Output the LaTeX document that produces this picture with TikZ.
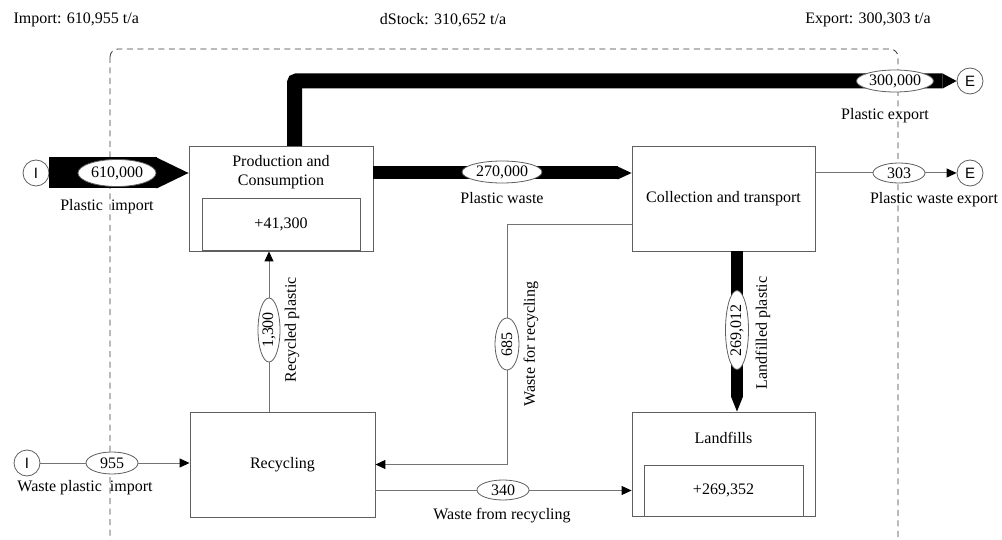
\documentclass[tikz,border=0pt]{standalone}
\usepackage{fontspec}
\setmainfont{Liberation Serif}
\newfontfamily\sansfont{Liberation Sans}
\usetikzlibrary{arrows.meta, shapes.geometric}
\definecolor{boxgray}{RGB}{95,95,95}
\definecolor{linegray}{RGB}{115,115,115}
\definecolor{dashgray}{RGB}{60,60,60}

\begin{document}
\begin{tikzpicture}[
        x=1pt, y=-1pt,
        every node/.append style={font=\fontsize{16}{19}\selectfont},
        procNode/.style={rectangle, draw=boxgray, line width=0.9pt, minimum width=184pt, minimum height=105pt, inner sep=0pt},
        stockNode/.style={rectangle, draw=boxgray, line width=0.9pt, minimum width=158pt, minimum height=52pt, inner sep=0pt},
        valueNode/.style={ellipse, draw=boxgray, line width=0.8pt, fill=white, inner sep=0pt, minimum height=22pt, minimum width=52pt},
        endNode/.style={circle, draw=boxgray, line width=0.8pt, fill=white, minimum size=26pt, inner sep=0pt, font=\sansfont\fontsize{15}{18}\selectfont},
        thinFlow/.style={draw=linegray, line width=1pt, -{Triangle[length=10pt, width=9pt, color=black]}},
        bigFlow/.style 2 args={draw=black, line width=#1, -{Triangle[length=#2, width=#1, line width=0pt]}},
        sysBound/.style={draw=dashgray, line width=0.8pt, dash pattern=on 6pt off 4.5pt, rounded corners=8pt}
    ]
        \useasboundingbox (0,0) rectangle (1002,540);

        % System boundary and balance
        \draw[sysBound] (110,49) rectangle (898,547);
        \node[anchor=west] (tImport) at (10,20) {Import: 610,955 t/a};
        \node (tStock) at (443,20) {dStock: 310,652 t/a};
        \node (tExport) at (868,20) {Export: 300,303 t/a};

        % Processes
        \node[procNode] (prod) at (281,198.5) {};
        \node[stockNode] (prodStock) at (281,224.5) {+41,300};
        \node[align=center] (prodTitle) at (281,172) {Production and\\Consumption};
        \node[procNode, minimum width=183pt] (coll) at (723.5,198.5) {Collection and transport};
        \node[procNode, minimum width=185pt] (recy) at (282.5,464.5) {Recycling};
        \node[procNode, minimum width=183pt, minimum height=104pt] (land) at (723.5,464) {};
        \node[stockNode, minimum width=159pt, minimum height=51pt] (landStock) at (723.5,490.5) {+269,352};
        \node (landTitle) at (723.5,438) {Landfills};

        % Imports and exports
        \node[endNode] (iPlastic) at (36,173) {I};
        \node[endNode] (iWaste) at (27,463) {I};
        \node[endNode] (ePlastic) at (970,81) {E};
        \node[endNode] (eWaste) at (970,173) {E};

        \coordinate (expStart) at (294.5,146);
        \coordinate (lfStart) at (737,251);
        \coordinate (wrBend) at (507,225);
        \coordinate (rpStart) at (269,412);

        % Flows
        \draw[bigFlow={31pt}{32pt}] (iPlastic) -- (iPlastic -| prod.west);
        \draw[bigFlow={15pt}{14pt}, rounded corners=2pt] (expStart) |- (ePlastic);
        \draw[bigFlow={13pt}{14pt}] (prod.east |- iPlastic) -- (iPlastic -| coll.west);
        \draw[thinFlow] (coll.east |- eWaste) -- (eWaste);
        \draw[bigFlow={12pt}{15pt}] (lfStart) -- (lfStart |- land.north);
        \draw[thinFlow] (wrBend -| coll.west) -- (wrBend) |- (recy.east);
        \draw[thinFlow] (recy.east |- landStock) -- (landStock -| land.west);
        \draw[thinFlow] (rpStart) -- (rpStart |- prod.south);
        \draw[thinFlow] (iWaste) -- (iWaste -| recy.west);

        % Flow values
        \node[valueNode, minimum width=78pt, minimum height=27pt] (vImport) at (117,173) {610,000};
        \node[valueNode, minimum width=77pt] (vExport) at (895,81) {300,000};
        \node[valueNode, minimum width=80pt] (vWaste) at (502,172) {270,000};
        \node[valueNode, minimum height=20pt] (vWasteExp) at (899,173) {303};
        \node[valueNode, rotate=90, minimum width=79pt, minimum height=23pt] (vLandfill) at (737,330) {269,012};
        \node[valueNode, rotate=90, minimum height=24pt] (vToRecy) at (507,344) {685};
        \node[valueNode, minimum height=20pt] (vFromRecy) at (503,490) {340};
        \node[valueNode, rotate=90, minimum width=64pt] (vRecycled) at (269,330) {1,300};
        \node[valueNode] (vWasteImp) at (112,463) {955};

        % Flow names
        \node (nImport) at (107,207) {Plastic\hspace{8pt}import};
        \node (nExport) at (885,116) {Plastic export};
        \node (nWaste) at (502,198) {Plastic waste};
        \node (nWasteExp) at (934,200) {Plastic waste export};
        \node[rotate=90] (nLandfill) at (763,333) {Landfilled plastic};
        \node[rotate=90] (nToRecy) at (531,344) {Waste for recycling};
        \node (nFromRecy) at (502,516) {Waste from recycling};
        \node[rotate=90] (nRecycled) at (292,330) {Recycled plastic};
        \node (nWasteImp) at (85,488) {Waste plastic\hspace{8pt}import};
    \end{tikzpicture}
\end{document}
